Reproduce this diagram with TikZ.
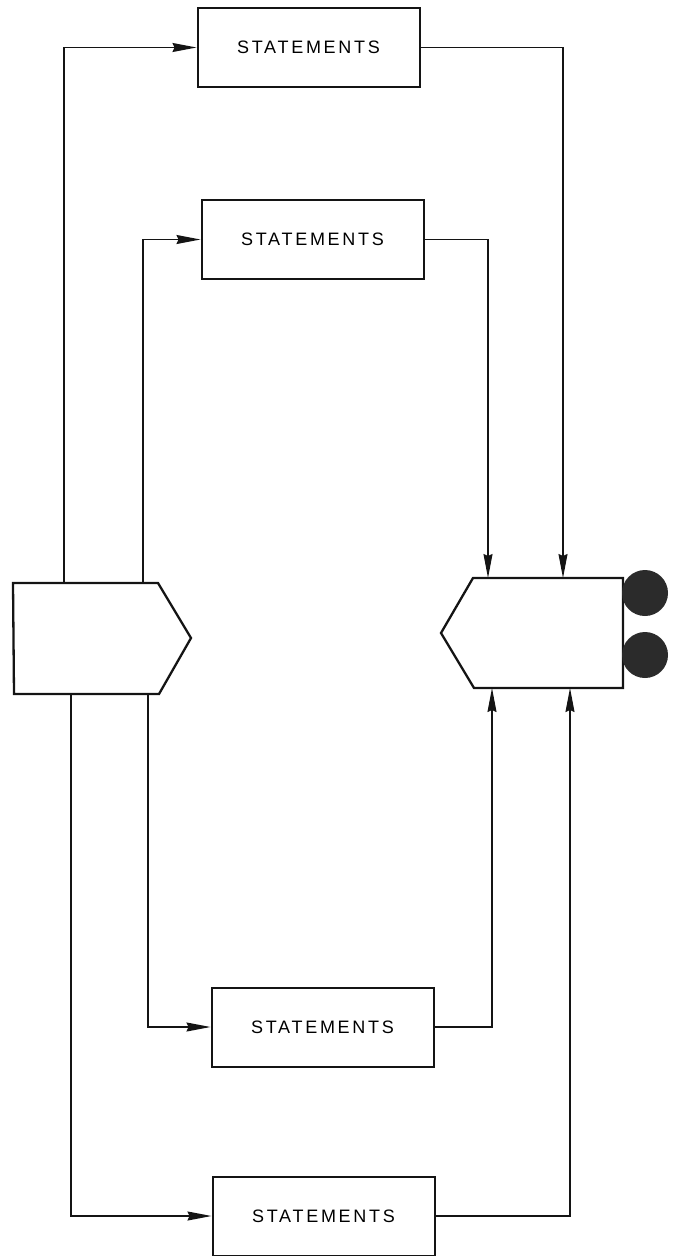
\documentclass[tikz,border=0pt]{standalone}
\usepackage{fontspec}
\newfontfamily\stmtfont{Liberation Sans}[LetterSpace=15]
\usetikzlibrary{arrows.meta}
\definecolor{ink}{HTML}{141414}
\definecolor{dotfill}{HTML}{2B2B2B}
\tikzset{
  >={Stealth[length=24pt,width=9pt,inset=2pt]},
  flow/.style={draw=ink, line width=1.3pt, ->},
  stmt/.style={draw=ink, line width=2pt, minimum width=222pt,
    minimum height=79pt, inner sep=0pt,
    font=\stmtfont\fontsize{18}{20}\selectfont},
  gate/.style={draw=ink, line width=2.3pt, line join=miter},
  flag/.style={circle, fill=dotfill, minimum size=46pt, inner sep=0pt}
}

\begin{document}
\begin{tikzpicture}[x=1pt,y=-1pt]
  \useasboundingbox (0,0) rectangle (678,1256);

  % ------------------------------------------------------------------
  % selector (left) and collector (right)
  \draw[gate] (13,583) -- (158,583) -- (191,638) -- (159,694)
    -- (14,694) -- cycle;
  \draw[gate] (441,633) -- (473,578) -- (623,578) -- (623,688)
    -- (474,688) -- cycle;
  \node[flag] (dot1) at (645,593) {};
  \node[flag] (dot2) at (645,655) {};

  \coordinate (lout1) at (64,583);
  \coordinate (lout2) at (143,583);
  \coordinate (lout3) at (148,694);
  \coordinate (lout4) at (71,694);
  \coordinate (rin1) at (563,578);
  \coordinate (rin2) at (488,578);
  \coordinate (rin3) at (492,688);
  \coordinate (rin4) at (570,688);

  % ------------------------------------------------------------------
  % branches
  \node[stmt] (box1) at (308.5,47.5) {STATEMENTS};
  \node[stmt] (box2) at (312.5,239.5) {STATEMENTS};
  \node[stmt] (box3) at (322.5,1027) {STATEMENTS};
  \node[stmt] (box4) at (323.5,1216) {STATEMENTS};

  \draw[flow] (lout1) |- (box1.west);
  \draw[flow] (lout2) |- (box2.west);
  \draw[flow] (lout3) |- (box3.west);
  \draw[flow] (lout4) |- (box4.west);

  \draw[flow] (box1.east) -| (rin1);
  \draw[flow] (box2.east) -| (rin2);
  \draw[flow] (box3.east) -| (rin3);
  \draw[flow] (box4.east) -| (rin4);
\end{tikzpicture}
\end{document}
